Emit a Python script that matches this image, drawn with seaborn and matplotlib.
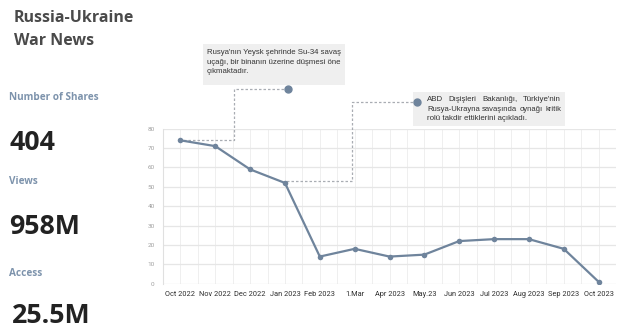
import matplotlib
matplotlib.use("Agg")
import matplotlib.pyplot as plt
import seaborn as sns
import pandas as pd
from matplotlib.patches import Rectangle
from matplotlib.ticker import MultipleLocator

months = ["Oct 2022", "Nov 2022", "Dec 2022", "Jan 2023", "Feb 2023", "1.Mar",
          "Apr 2023", "May.23", "Jun 2023", "Jul 2023", "Aug 2023", "Sep 2023", "Oct 2023"]
values = [74, 71, 59, 52, 14, 18, 14, 15, 22, 23, 23, 18, 1]

kpi_labels = ["Number of Shares", "Views", "Access"]
kpi_values = ["404", "958M", "25.5M"]

note1_lines = ["Rusya'nın Yeysk şehrinde Su-34 savaş",
               "uçağı, bir binanın üzerine düşmesi öne",
               "çıkmaktadır."]
note2_lines = ["ABD Dışişleri Bakanlığı, Türkiye'nin",
               "Rusya-Ukrayna savaşında oynağı kritik",
               "rolü takdir ettiklerini açıkladı."]
# connector paths (data coords): from dot to corner, down, then to point
note1_path_x = [3.1, 1.55, 1.55, 0]
note1_path_y = [100.4, 100.4, 74, 74]
note2_path_x = [6.78, 4.91, 4.91, 3]
note2_path_y = [93.7, 93.7, 53, 53]

sns.set_theme(style="white")
plt.rcParams['font.family'] = ['Open Sans', 'DejaVu Sans']

W, H = 619, 332
fig = plt.figure(figsize=(W / 100, H / 100), dpi=100)
fig.patch.set_facecolor("white")

def fx(px):
    return px / W

def fy(py):
    return 1 - py / H

# Left panel texts
fig.text(fx(14), fy(18), "Russia-Ukraine", fontsize=11.5, fontweight="bold",
         color="#4a4a4a", va="center", ha="left")
fig.text(fx(14), fy(41), "War News", fontsize=11.5, fontweight="bold",
         color="#4a4a4a", va="center", ha="left")
label_y = [97, 181, 273]
value_y = [143, 227, 316]
value_x = [9, 9, 12]
for lab, ly, val, vy, vx in zip(kpi_labels, label_y, kpi_values, value_y, value_x):
    fig.text(fx(9), fy(ly), lab, fontsize=7.2, fontweight="bold",
             color="#7d93ac", va="center", ha="left")
    fig.text(fx(vx), fy(vy), val, fontsize=19.3, fontweight="bold",
             color="#222222", va="center", ha="left")

# Chart axes
left, right, top, bottom = 163, 616, 128.7, 283.7
ax = fig.add_axes([fx(left), fy(bottom), fx(right - left), (bottom - top) / H])
ax.set_zorder(2)
ax.patch.set_alpha(0)
df = pd.DataFrame({"x": range(len(months)), "value": values})
line_color = "#6f849c"
sns.lineplot(data=df, x="x", y="value", ax=ax, color=line_color, linewidth=1.6,
             marker="o", markersize=4, markeredgewidth=0)
ax.set_xlim(-0.5, len(months) - 0.5)
ax.set_ylim(0, 80)
ax.set_xticks(range(len(months)))
ax.set_xticklabels(months)
ax.xaxis.set_minor_locator(MultipleLocator(0.5))
ax.yaxis.set_major_locator(MultipleLocator(10))
ax.grid(True, which="major", axis="y", color="#e6e6e6", linewidth=0.9)
ax.grid(True, which="both", axis="x", color="#ececec", linewidth=0.6)
ax.set_axisbelow(True)
ax.set_xlabel("")
ax.set_ylabel("")
for s in ["top", "right", "bottom"]:
    ax.spines[s].set_visible(False)
ax.spines["left"].set_color("#e0e0e0")
ax.spines["left"].set_linewidth(0.8)
ax.tick_params(axis="x", which="both", length=0, labelsize=5.3, labelcolor="#2e2e2e", pad=5)
ax.tick_params(axis="y", length=0, labelsize=4.6, labelcolor="#a0a0a0", pad=6)
for t in ax.get_xticklabels():
    t.set_family(["Roboto", "DejaVu Sans"])
for t in ax.get_yticklabels():
    t.set_family(["Roboto", "DejaVu Sans"])

# Annotation connectors
for px, py in [(note1_path_x, note1_path_y), (note2_path_x, note2_path_y)]:
    ax.plot(px, py, color="#a9adb3", linewidth=0.9, linestyle=(0, (2, 1.6)),
            clip_on=False, zorder=1)
    ax.plot(px[0], py[0], marker="o", markersize=5, color=line_color,
            clip_on=False, zorder=3)

# Annotation boxes
note_font = dict(color="#333333", va="top", ha="left",
                 family=["Liberation Sans", "DejaVu Sans"])
boxes = [(203, 44, 345, 85, note1_lines, 207, 49, None, 5.6),
         (413, 92, 565, 126, note2_lines, 427, 96, 561, 5.7)]
fig.canvas.draw()
renderer = fig.canvas.get_renderer()
for x0, y0, x1, y1, lines, tx, ty, jx, fs in boxes:
    fig.patches.append(Rectangle((fx(x0), fy(y1)), fx(x1 - x0), (y1 - y0) / H,
                                 transform=fig.transFigure, facecolor="#efefef",
                                 edgecolor="none", zorder=0))
    for i, ln in enumerate(lines):
        ypos = fy(ty + i * 9.6)
        if jx is None or i == len(lines) - 1:
            fig.text(fx(tx), ypos, ln, fontsize=fs, **note_font)
            continue
        # justified line: spread words to fill the width
        words = ln.split(" ")
        arts = [fig.text(0, ypos, w, fontsize=fs, **note_font) for w in words]
        widths = [a.get_window_extent(renderer).width for a in arts]
        avail = jx - tx
        min_gap = 2.5
        natural = sum(widths) + min_gap * (len(words) - 1)
        if natural > avail:
            scale = (avail - min_gap * (len(words) - 1)) / sum(widths)
            for a in arts:
                a.set_fontsize(fs * scale)
            widths = [a.get_window_extent(renderer).width for a in arts]
        gap = (avail - sum(widths)) / max(len(words) - 1, 1)
        xcur = tx
        for a, wdt in zip(arts, widths):
            a.set_x(fx(xcur))
            xcur += wdt + gap

fig.savefig("out.png", dpi=100, facecolor="white")
